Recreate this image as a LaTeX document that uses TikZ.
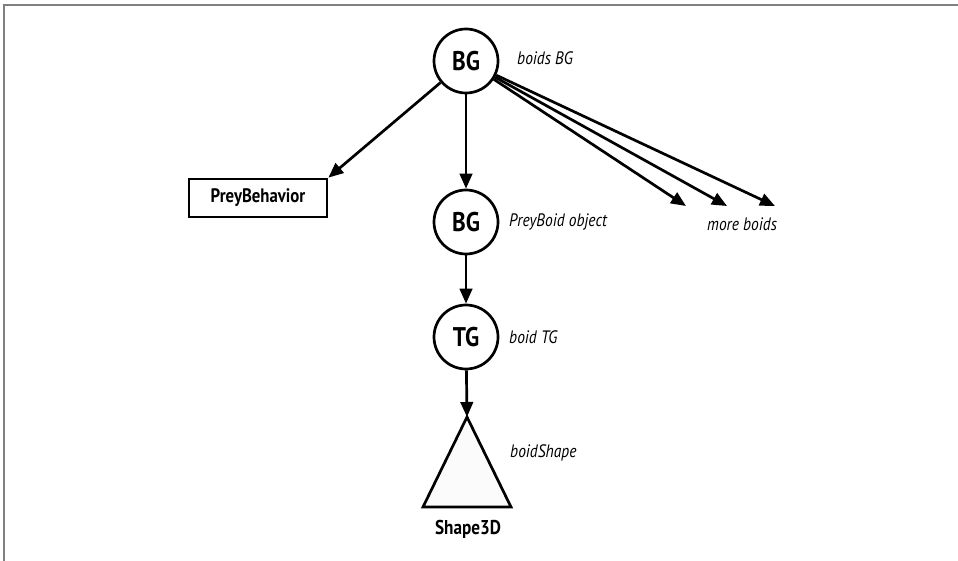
\documentclass[tikz,border=0pt]{standalone}
\usepackage{fontspec}
\setmainfont[FakeStretch=0.86]{PT Sans}
\usetikzlibrary{arrows.meta}
\begin{document}
\begin{tikzpicture}[x=1pt,y=-1pt,
  edge/.style={line width=2.7pt,-{Triangle[length=15pt,width=12.5pt]}},
  group/.style={circle,draw,line width=2.7pt,minimum size=64pt,inner sep=0pt,
    font=\fontsize{27}{27}\selectfont\bfseries},
  caption/.style={anchor=west,inner sep=0pt,font=\fontsize{18}{18}\selectfont\itshape},
  classbox/.style={draw,line width=2.7pt,minimum width=138pt,minimum height=38pt,
    inner sep=0pt,font=\fontsize{19.5}{19.5}\selectfont\bfseries}]
  \useasboundingbox (0,0) rectangle (958,561);
  % frame
  \draw[gray,line width=2pt] (3.5,561) -- (3.5,5.5) -- (958,5.5);

  % scene graph nodes
  \node[group] (bgtop) at (466,61) {BG};
  \node[group] (bgmid) at (466,222) {BG};
  \node[group] (tg) at (466,337) {TG};
  \node[classbox] (pb) at (258,198) {PreyBehavior};

  % shape leaf
  \coordinate (apex) at (467,417);
  \draw[line width=2.7pt,fill=black!1.5,line join=miter] (apex) -- (511,507) -- (423,507) -- cycle;
  \node[inner sep=0pt,font=\fontsize{20}{20}\selectfont\bfseries] (s3d) at (468,529) {Shape3D};

  % further boids
  \coordinate (m1) at (686,206);
  \coordinate (m2) at (727,206);
  \coordinate (m3) at (775,206);

  % captions
  \node[caption] (c1) at (517,58) {boids BG};
  \node[caption] (c2) at (509,222) {PreyBoid object};
  \node[caption] (c3) at (509,337) {boid TG};
  \node[caption] (c4) at (510,453) {boidShape};
  \node[caption] (c5) at (707,224) {more boids};

  % connectors
  \draw[edge] (bgtop) -- (pb.north east);
  \draw[edge] (bgtop) -- (bgmid);
  \draw[edge] (bgmid) -- (tg);
  \draw[edge] (tg) -- (apex);
  \draw[edge] (bgtop) -- (m1);
  \draw[edge] (bgtop) -- (m2);
  \draw[edge] (bgtop) -- (m3);
\end{tikzpicture}
\end{document}
